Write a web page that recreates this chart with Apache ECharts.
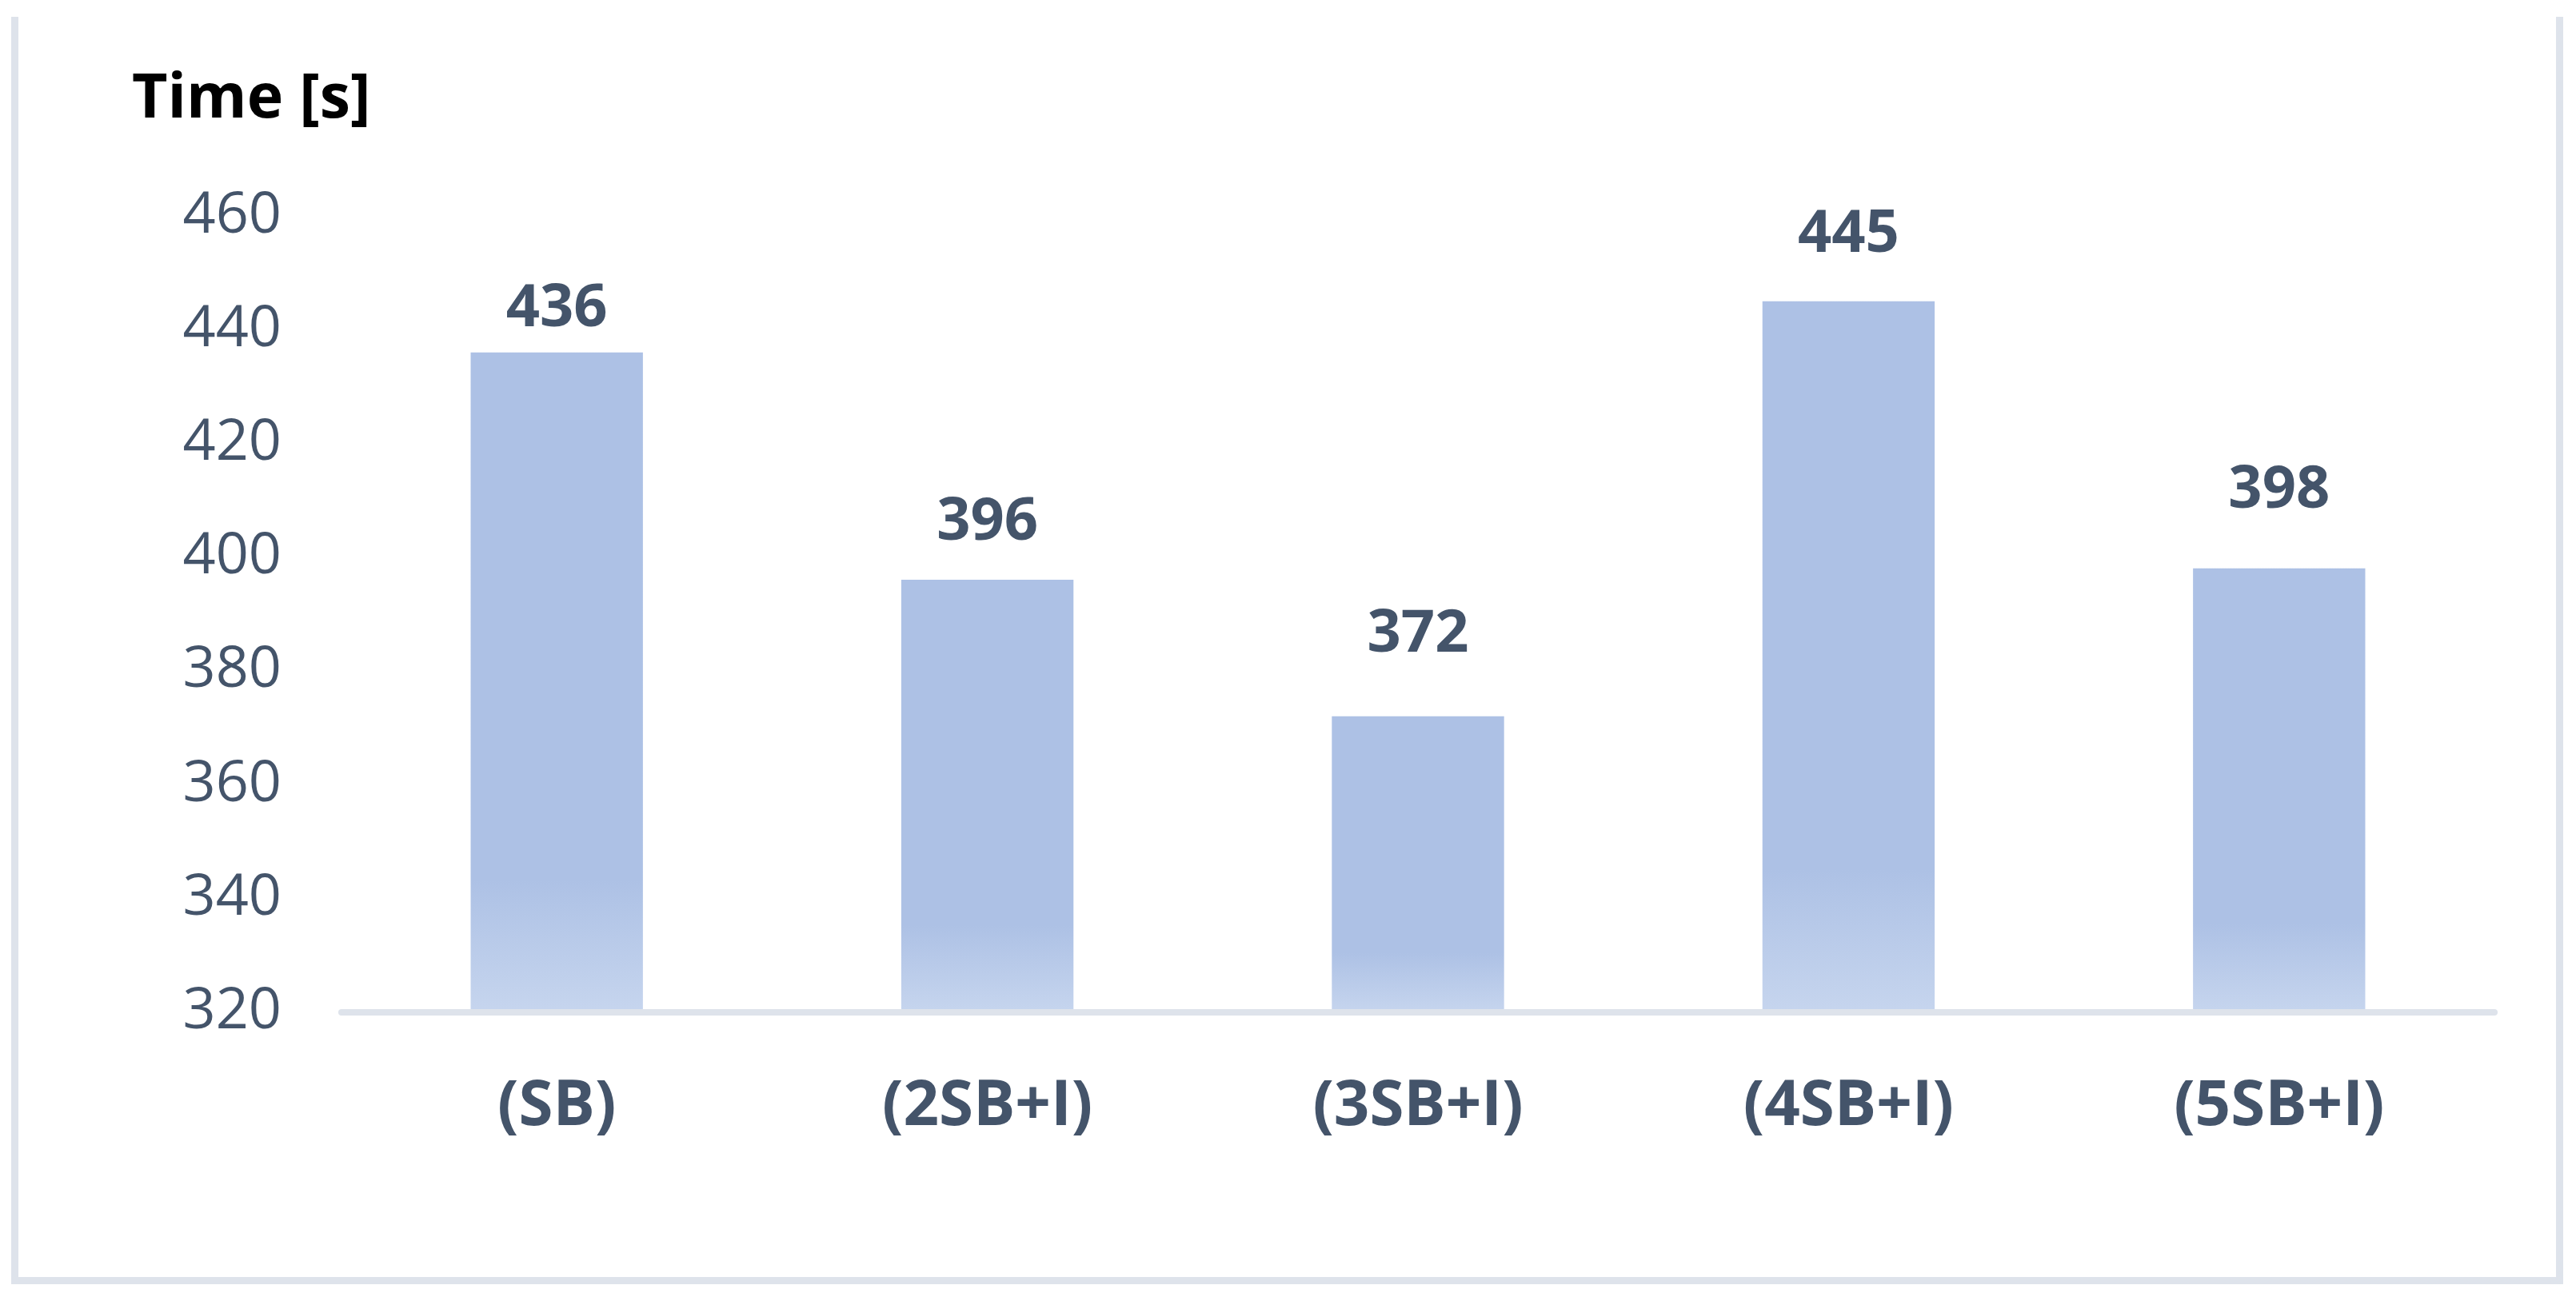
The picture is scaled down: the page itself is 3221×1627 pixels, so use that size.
<!DOCTYPE html>
<html>
<head>
<meta charset="utf-8">
<script src="https://cdn.jsdelivr.net/npm/echarts@6/dist/echarts.min.js"></script>
<style>
  html, body { margin: 0; padding: 0; background: #fff; }
  #main { width: 3221px; height: 1627px; }
</style>
</head>
<body>
<div id="main"></div>
<script>
// 数据
var categories = ['(SB)', '(2SB+I)', '(3SB+I)', '(4SB+I)', '(5SB+I)'];
var times = [436, 396, 372, 445, 398];
var yTicks = [320, 340, 360, 380, 400, 420, 440, 460];

// 数据标签离柱顶的距离（原图里是手动摆的，高低不一）
var labelGaps = [17, 34, 65, 46, 60];

var textColor = '#44546a';
var lineColor = '#dee3eb';

// 柱子渐变（底部变浅）
var barColor = new echarts.graphic.LinearGradient(0, 0, 0, 1, [
    { offset: 0, color: '#adc1e5' },
    { offset: 0.8, color: '#adc1e5' },
    { offset: 1, color: '#c6d5ee' }
]);

var barData = times.map(function (v, i) {
    return { value: v, label: { distance: labelGaps[i] } };
});

var myChart = echarts.init(document.getElementById('main'));

var option = {
    backgroundColor: '#ffffff',
    animation: false,
    title: {
        text: 'Time [s]',
        left: 160,
        top: 82,
        textStyle: {
            fontFamily: 'Open Sans',
            fontWeight: 'bold',
            fontSize: 77,
            color: '#000000'
        }
    },
    grid: {
        left: 427,
        right: 102,
        top: 270,
        bottom: 361.5,
        containLabel: false
    },
    xAxis: {
        type: 'category',
        data: categories,
        z: 3,
        axisLine: { show: true, lineStyle: { color: lineColor, width: 8 } },
        axisTick: { show: false },
        axisLabel: {
            margin: 80,
            fontFamily: 'Open Sans',
            fontWeight: 'bold',
            fontSize: 78,
            color: textColor
        }
    },
    yAxis: {
        type: 'value',
        min: yTicks[0],
        max: yTicks[yTicks.length - 1],
        interval: 20,
        axisLine: { show: false },
        axisTick: { show: false },
        splitLine: { show: false },
        axisLabel: {
            margin: 75,
            fontFamily: 'Open Sans',
            fontSize: 72,
            color: textColor
        }
    },
    series: [{
        type: 'bar',
        data: barData,
        barWidth: '40%',
        itemStyle: { color: barColor },
        label: {
            show: true,
            position: 'top',
            fontFamily: 'Open Sans',
            fontWeight: 'bold',
            fontSize: 74,
            color: textColor
        }
    }],
    // 外框（左、下、右三边）
    graphic: [{
        type: 'polyline',
        shape: { points: [[18.5, 21], [18.5, 1601.5], [3200.5, 1601.5], [3200.5, 21]] },
        style: { stroke: lineColor, lineWidth: 9, fill: null }
    }]
};

myChart.setOption(option);
</script>
</body>
</html>
